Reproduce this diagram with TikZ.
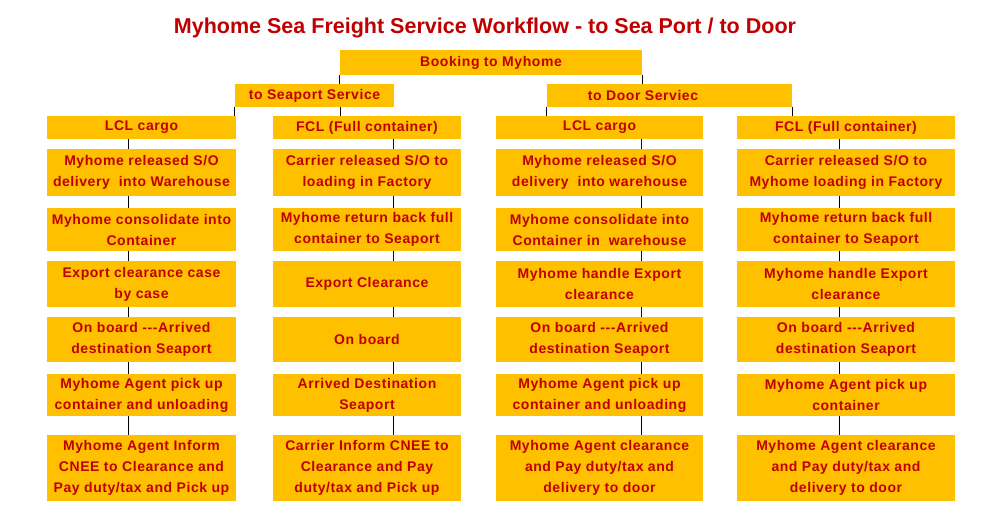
\documentclass[tikz,border=0pt]{standalone}
\usepackage{fontspec}
\setmainfont{Liberation Sans}
\newfontfamily\boxfont[LetterSpace=4]{Liberation Sans}
\definecolor{boxfill}{HTML}{FFC000}
\definecolor{txtred}{HTML}{C00000}
\tikzset{
  box/.style={fill=boxfill, text=txtred, inner sep=0pt, align=center,
    font=\boxfont\bfseries\fontsize{14}{21}\selectfont},
  link/.style={draw=black, line width=0.8pt},
  c1/.style={minimum width=189pt}, c2/.style={minimum width=188pt},
  c3/.style={minimum width=207pt}, c4/.style={minimum width=218pt},
  r1/.style={minimum height=23pt}, r2/.style={minimum height=47pt},
  r3/.style={minimum height=43pt}, r4/.style={minimum height=46pt},
  r5/.style={minimum height=45pt}, r6/.style={minimum height=42pt},
  r7/.style={minimum height=66pt}
}
\begin{document}
\begin{tikzpicture}[x=1pt,y=-1pt]
\useasboundingbox (0,0) rectangle (998,513);
\node[text=txtred, font=\bfseries\fontsize{21.5}{24}\selectfont] (title) at (485,28) {Myhome Sea Freight Service Workflow - to Sea Port / to Door};
\node[box, minimum width=302pt, minimum height=25pt] (book) at (491,62.5) {Booking to Myhome};
\node[box, minimum width=159pt, minimum height=23pt] (sea) at (314.5,95.5) {to Seaport Service};
\node[box, minimum width=245pt, minimum height=23pt] (door) at (669.5,95.5) {};
\node[box, fill=none] (doortxt) at (643,95.5) {to Door Serviec};
% column 1
\node[box,c1,r1] (c1r1) at (141.5,127.5) {LCL cargo};
\node[box,c1,r2] (c1r2) at (141.5,172.5) {Myhome released S/O\\delivery\ \ into Warehouse};
\node[box,c1,r3] (c1r3) at (141.5,229.5) {Myhome consolidate into\\Container};
\node[box,c1,r4] (c1r4) at (141.5,284) {Export clearance case\\by case};
\node[box,c1,r5] (c1r5) at (141.5,339.5) {On board ---Arrived\\destination Seaport};
\node[box,c1,r6] (c1r6) at (141.5,395) {Myhome Agent pick up\\container and unloading};
\node[box,c1,r7] (c1r7) at (141.5,468) {Myhome Agent Inform\\CNEE to Clearance and\\Pay duty/tax and Pick up};
% column 2
\node[box,c2,r1] (c2r1) at (367,127.5) {FCL (Full container)};
\node[box,c2,r2] (c2r2) at (367,172.5) {Carrier released S/O to\\loading in Factory};
\node[box,c2,r3] (c2r3) at (367,229.5) {Myhome return back full\\container to Seaport};
\node[box,c2,r4] (c2r4) at (367,284) {Export Clearance};
\node[box,c2,r5] (c2r5) at (367,339.5) {On board};
\node[box,c2,r6] (c2r6) at (367,395) {Arrived Destination\\Seaport};
\node[box,c2,r7] (c2r7) at (367,468) {Carrier Inform CNEE to\\Clearance and Pay\\duty/tax and Pick up};
% column 3
\node[box,c3,r1] (c3r1) at (599.5,127.5) {LCL cargo};
\node[box,c3,r2] (c3r2) at (599.5,172.5) {Myhome released S/O\\delivery\ \ into warehouse};
\node[box,c3,r3] (c3r3) at (599.5,229.5) {Myhome consolidate into\\Container in\ \ warehouse};
\node[box,c3,r4] (c3r4) at (599.5,284) {Myhome handle Export\\clearance};
\node[box,c3,r5] (c3r5) at (599.5,339.5) {On board ---Arrived\\destination Seaport};
\node[box,c3,r6] (c3r6) at (599.5,395) {Myhome Agent pick up\\container and unloading};
\node[box,c3,r7] (c3r7) at (599.5,468) {Myhome Agent clearance\\and Pay duty/tax and\\delivery to door};
% column 4
\node[box,c4,r1] (c4r1) at (846,127.5) {FCL (Full container)};
\node[box,c4,r2] (c4r2) at (846,172.5) {Carrier released S/O to\\Myhome loading in Factory};
\node[box,c4,r3] (c4r3) at (846,229.5) {Myhome return back full\\container to Seaport};
\node[box,c4,r4] (c4r4) at (846,284) {Myhome handle Export\\clearance};
\node[box,c4,r5] (c4r5) at (846,339.5) {On board ---Arrived\\destination Seaport};
\node[box,c4,r6] (c4r6) at (846,395) {Myhome Agent pick up\\container};
\node[box,c4,r7] (c4r7) at (846,468) {Myhome Agent clearance\\and Pay duty/tax and\\delivery to door};
% connector x positions
\coordinate (x1) at (128.3,0);
\coordinate (x2) at (393.7,0);
\coordinate (x3) at (641.7,0);
\coordinate (x4) at (839.3,0);
\coordinate (xb) at (340,0);
% top connectors
\draw[link] (book.south west) -- (sea.north -| book.south west);
\draw[link] (book.south east) -- (door.north -| book.south east);
\draw[link] (sea.south west) -- (c1r1.north -| sea.south west);
\draw[link] (sea.south -| xb) -- (c2r1.north -| xb);
\draw[link] (door.south west) -- (c3r1.north -| door.south west);
\draw[link] (door.south east) -- (c4r1.north -| door.south east);
% column connectors
\foreach \c in {1,2,3,4}{
  \foreach \r [evaluate=\r as \n using int(\r+1)] in {1,...,6}{
    \draw[link] (c\c r\r.south -| x\c) -- (c\c r\n.north -| x\c);
  }
}
\end{tikzpicture}
\end{document}
